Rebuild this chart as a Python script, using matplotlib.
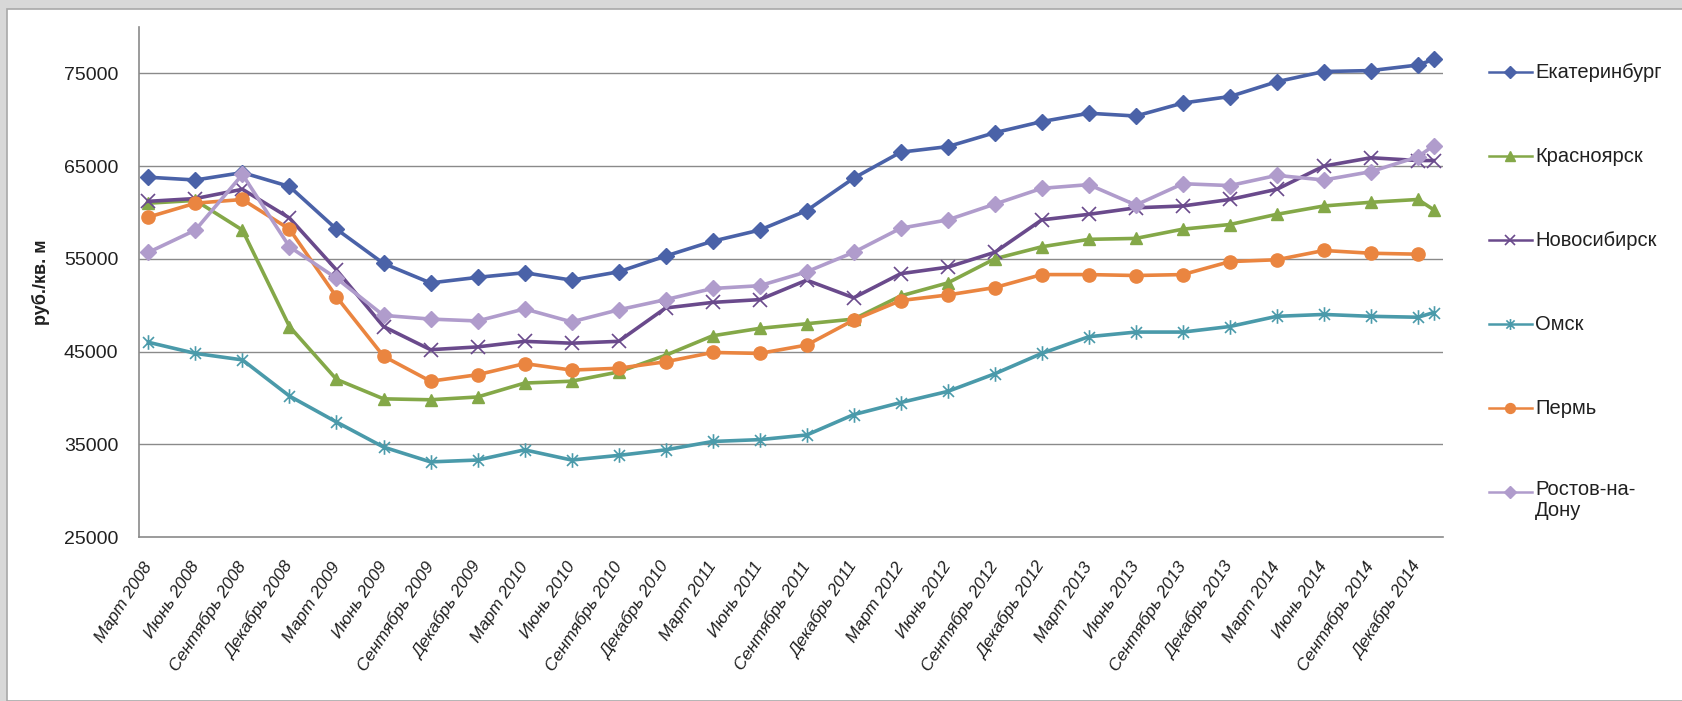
"""Средняя цена квадратного метра по городам, 2008–2015, поквартально.

Шесть линий с маркерами, подписи кварталов наклонные, легенда справа
нарисована вручную, чтобы значок стоял против первой строки подписи.
"""

import matplotlib
matplotlib.use("Agg")
import matplotlib.pyplot as plt  # noqa: E402
from matplotlib.lines import Line2D  # noqa: E402
from matplotlib.patches import Rectangle  # noqa: E402
from matplotlib.path import Path  # noqa: E402

W, H = 1683, 701  # размер картинки в пикселях

# Подписи кварталов и их положение на оси в месяцах от марта 2008.
KVARTALY = [
    "Март 2008", "Июнь 2008", "Сентябрь 2008", "Декабрь 2008",
    "Март 2009", "Июнь 2009", "Сентябрь 2009", "Декабрь 2009",
    "Март 2010", "Июнь 2010", "Сентябрь 2010", "Декабрь 2010",
    "Март 2011", "Июнь 2011", "Сентябрь 2011", "Декабрь 2011",
    "Март 2012", "Июнь 2012", "Сентябрь 2012", "Декабрь 2012",
    "Март 2013", "Июнь 2013", "Сентябрь 2013", "Декабрь 2013",
    "Март 2014", "Июнь 2014", "Сентябрь 2014", "Декабрь 2014",
]
MESYATSY_KV = [0, 3, 6, 9, 12, 15, 18, 21, 24, 27, 30, 33, 36, 39,
               42, 45, 48, 51, 54, 57, 60, 63, 66, 69, 72, 75, 78, 81]
# последняя точка — январь 2015
MESYATSY = MESYATSY_KV + [82]

GORODA = ["Екатеринбург", "Красноярск", "Новосибирск", "Омск", "Пермь",
          "Ростов-на-\nДону"]

EKATERINBURG = [63800, 63500, 64300, 62800, 58200, 54500, 52400, 53000,
                53500, 52700, 53600, 55300, 56900, 58100, 60200, 63700,
                66500, 67100, 68600, 69800, 70700, 70400, 71800, 72500,
                74100, 75200, 75300, 75900, 76500]
KRASNOYARSK = [61000, 61300, 58100, 47700, 42000, 39900, 39800, 40100,
               41600, 41800, 42800, 44600, 46700, 47500, 48000, 48500,
               51000, 52400, 55000, 56300, 57100, 57200, 58200, 58700,
               59800, 60700, 61100, 61400, 60300]
NOVOSIBIRSK = [61200, 61500, 62500, 59400, 53800, 47700, 45200, 45500,
               46100, 45900, 46100, 49700, 50300, 50600, 52700, 50800,
               53400, 54100, 55700, 59200, 59800, 60500, 60700, 61400,
               62500, 65000, 65900, 65600, 65600]
OMSK = [46000, 44800, 44100, 40200, 37400, 34700, 33100, 33300,
        34400, 33300, 33800, 34400, 35300, 35500, 36000, 38200,
        39500, 40700, 42600, 44800, 46600, 47100, 47100, 47700,
        48800, 49000, 48800, 48700, 49200]
PERM = [59500, 61000, 61400, 58200, 50900, 44500, 41800, 42500,
        43700, 43000, 43200, 43900, 44900, 44800, 45700, 48400,
        50500, 51100, 51900, 53300, 53300, 53200, 53300, 54700,
        54900, 55900, 55600, 55500]
ROSTOV = [55700, 58100, 64100, 56300, 52900, 48900, 48500, 48300,
          49600, 48200, 49500, 50600, 51800, 52100, 53600, 55700,
          58300, 59200, 60900, 62600, 63000, 60800, 63100, 62900,
          64000, 63500, 64400, 66000, 67200]

Y_TIKI = [25000, 35000, 45000, 55000, 65000, 75000]

# Звёздочка как в Excel: вертикаль и две диагонали.
ZVEZDA = Path([(0, -1), (0, 1), (-0.75, -0.75), (0.75, 0.75),
               (-0.75, 0.75), (0.75, -0.75)],
              [Path.MOVETO, Path.LINETO] * 3)

# цвет, маркер, размер маркера, толщина контура маркера
STILI = [
    ("#4a62a8", "D", 8.5, 1.0),
    ("#84a848", "^", 9.0, 1.0),
    ("#6a4a8c", "x", 9.5, 1.2),
    ("#4a9aaa", ZVEZDA, 10.5, 1.2),
    ("#ea8540", "o", 9.5, 1.0),
    ("#b09ccc", "D", 8.5, 1.0),
]

SERIES = [EKATERINBURG, KRASNOYARSK, NOVOSIBIRSK, OMSK, PERM, ROSTOV]

plt.rcParams["font.family"] = ["Liberation Sans", "DejaVu Sans"]

fig = plt.figure(figsize=(W / 100, H / 100), dpi=100)
fig.patch.set_facecolor("#d8d8d8")
# белая подложка диаграммы, серая полоса остаётся сверху и слева
fig.add_artist(Rectangle((7 / W, 0), 1, 1 - 9 / H, transform=fig.transFigure,
                         facecolor="white", edgecolor="#a8a8a8", lw=1.2,
                         zorder=-1))

ax = fig.add_axes([139 / W, 1 - 537 / H, (1443 - 139) / W, (537 - 27) / H])
ax.set_facecolor("white")

for vals, (cvet, marker, ms, mew) in zip(SERIES, STILI):
    ax.plot(MESYATSY[:len(vals)], vals, color=cvet, lw=2.6, marker=marker,
            ms=ms, mfc=cvet, mec=cvet, mew=mew, solid_joinstyle="round")

ax.set_ylim(25000, 80000)
ax.set_xlim(-0.6, 82.6)
ax.set_yticks(Y_TIKI)
ax.set_yticklabels([str(v) for v in Y_TIKI], fontsize=14)
ax.set_xticks(MESYATSY_KV)
ax.set_xticklabels(KVARTALY, rotation=57, ha="right", va="center",
                   rotation_mode="anchor", style="italic", fontsize=12.5)
ax.tick_params(axis="both", length=0, colors="#202020")
ax.tick_params(axis="y", pad=15)
ax.tick_params(axis="x", pad=19)

for y in Y_TIKI[1:]:
    ax.axhline(y, color="#8a8a8a", lw=1.0, zorder=0)
for side in ("top", "right"):
    ax.spines[side].set_visible(False)
for side in ("left", "bottom"):
    ax.spines[side].set_color("#8a8a8a")
    ax.spines[side].set_linewidth(1.2)

ax.set_ylabel("руб./кв. м", fontsize=13, fontweight="bold", color="#202020")
ax.yaxis.set_label_coords(-0.068, 0.5)

# легенда: значок-линия с маркером и подпись справа
for i, (imya, (cvet, marker, ms, mew)) in enumerate(zip(GORODA, STILI)):
    y = 1 - (72 + 84 * i) / H
    fig.add_artist(Line2D([1489 / W, 1532 / W], [y, y], color=cvet, lw=1.8,
                          transform=fig.transFigure))
    fig.add_artist(Line2D([1510 / W], [y], marker=marker, ms=ms * 0.75,
                          mfc=cvet, mec=cvet, mew=mew,
                          transform=fig.transFigure))
    if "\n" in imya:
        fig.text(1535 / W, y + 12 / H, imya, fontsize=14.5, va="top",
                 ha="left", color="#202020", linespacing=1.15)
    else:
        fig.text(1535 / W, y, imya, fontsize=14.5, va="center", ha="left",
                 color="#202020")

fig.savefig("out.png", dpi=100, facecolor=fig.get_facecolor())
plt.close(fig)
